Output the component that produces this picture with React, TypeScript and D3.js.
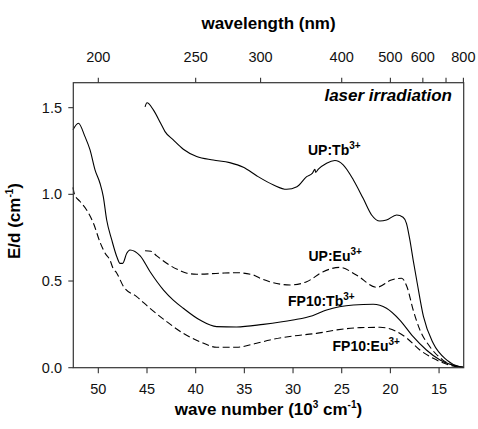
import React from "react";
import * as d3 from "d3";

// Absorption spectra (E/d, cm^-1) against wave number (10^3 cm^-1)
const upTbWave = [45.2, 45.0, 44.35, 43.6, 43.15, 42.3, 41.27, 39.9, 38.2, 36.5, 35.1, 33.7, 32.0, 30.66, 29.6, 28.6, 28.0, 27.75, 27.68, 27.4, 26.55, 25.7, 24.85, 23.8, 22.8, 21.93, 21.08, 20.4, 19.36, 18.7, 18.35, 18.0, 17.66, 17.3, 16.6, 15.6, 14.2, 12.9, 12.47];
const upTbValue = [1.505, 1.528, 1.487, 1.41, 1.362, 1.314, 1.26, 1.218, 1.198, 1.183, 1.156, 1.106, 1.054, 1.029, 1.044, 1.102, 1.122, 1.145, 1.127, 1.145, 1.18, 1.195, 1.17, 1.083, 0.977, 0.881, 0.846, 0.852, 0.881, 0.868, 0.833, 0.737, 0.621, 0.506, 0.294, 0.141, 0.044, 0.006, 0.002];

const fpTbWave = [52.6, 52.05, 51.37, 50.85, 50.34, 49.83, 49.49, 49.14, 48.62, 48.1, 47.77, 47.5, 47.08, 46.75, 45.7, 44.7, 43.3, 42.3, 41.27, 39.56, 37.85, 35.8, 33.06, 30.0, 28.0, 26.55, 23.8, 21.77, 20.4, 19.03, 17.66, 16.3, 14.9, 12.9, 12.47];
const fpTbValue = [1.372, 1.41, 1.333, 1.256, 1.141, 1.064, 0.987, 0.852, 0.737, 0.64, 0.602, 0.602, 0.66, 0.679, 0.645, 0.555, 0.448, 0.39, 0.343, 0.275, 0.237, 0.235, 0.25, 0.275, 0.3, 0.333, 0.362, 0.366, 0.343, 0.275, 0.179, 0.102, 0.044, 0.006, 0.002];

const upEuWave = [45.2, 44.6, 44.0, 42.64, 41.6, 40.9, 39.9, 37.5, 35.8, 34.1, 33.4, 32.4, 30.3, 28.6, 26.9, 25.2, 23.5, 21.4, 19.9, 18.85, 18.3, 17.66, 16.97, 15.94, 14.6, 12.9, 12.47];
const upEuValue = [0.675, 0.672, 0.645, 0.59, 0.56, 0.545, 0.539, 0.545, 0.548, 0.535, 0.516, 0.496, 0.477, 0.496, 0.554, 0.579, 0.535, 0.464, 0.506, 0.516, 0.467, 0.333, 0.218, 0.121, 0.044, 0.004, 0.001];

const fpEuWave = [52.6, 52.45, 51.9, 51.2, 50.5, 49.8, 49.3, 48.8, 48.5, 48.1, 47.4, 46.06, 44.7, 42.98, 41.27, 39.56, 37.85, 35.8, 33.74, 32.37, 30.0, 27.6, 25.5, 23.13, 21.07, 19.36, 18.3, 16.97, 15.6, 14.2, 12.9, 12.47];
const fpEuValue = [1.04, 1.0, 0.96, 0.91, 0.833, 0.72, 0.66, 0.62, 0.575, 0.545, 0.467, 0.41, 0.343, 0.266, 0.198, 0.15, 0.118, 0.118, 0.141, 0.16, 0.183, 0.198, 0.218, 0.231, 0.233, 0.208, 0.17, 0.102, 0.054, 0.02, 0.003, 0.001];

const waveTicks = [50, 45, 40, 35, 30, 25, 20, 15];
const yTicks = [0, 0.5, 1.0, 1.5];
const lambdaTicks = [200, 250, 300, 400, 500, 600, 700, 800];
const lambdaLabels = ["200", "250", "300", "400", "500", "600", "", "800"];

const FONT = "Arial, 'Liberation Sans', Helvetica, sans-serif";

export default function App() {
  const left = 73.3, right = 463.7, top = 82.7, bottom = 367.7;
  const x = d3.scaleLinear().domain([52.57, 12.47]).range([left, right]);
  const y = d3.scaleLinear().domain([0, 1.644]).range([bottom, top]);

  const line = d3
    .line<[number, number]>()
    .x((d) => x(d[0]))
    .y((d) => y(d[1]))
    .curve(d3.curveMonotoneX);

  const zip = (w: number[], v: number[]) =>
    w.map((wn, i) => [wn, v[i]] as [number, number]).sort((a, b) => b[0] - a[0]);

  const series = [
    { data: zip(upTbWave, upTbValue), dash: null },
    { data: zip(fpTbWave, fpTbValue), dash: null },
    { data: zip(upEuWave, upEuValue), dash: "7,3.5" },
    { data: zip(fpEuWave, fpEuValue), dash: "7,3.5" },
  ];

  const axisColor = "#333";

  return (
    <svg
      width={478}
      height={429}
      style={{ position: "absolute", left: 0, top: 0, background: "#fff" }}
      fontFamily={FONT}
    >
      <rect width={478} height={429} fill="#fff" />

      {/* top axis title */}
      <text x={(left + right) / 2} y={29} textAnchor="middle" fontSize={17} fontWeight="bold">
        wavelength (nm)
      </text>

      {/* curves */}
      {series.map((s, i) => (
        <path
          key={i}
          d={line(s.data) || ""}
          fill="none"
          stroke="#000"
          strokeWidth={1.1}
          strokeDasharray={s.dash || undefined}
        />
      ))}

      {/* frame */}
      <rect x={left} y={top} width={right - left} height={bottom - top} fill="none" stroke={axisColor} strokeWidth={1.2} />

      {/* bottom ticks */}
      {waveTicks.map((t) => (
        <g key={"b" + t}>
          <line x1={x(t)} x2={x(t)} y1={bottom} y2={bottom + 5.5} stroke={axisColor} strokeWidth={1.1} />
          <text x={x(t)} y={394} textAnchor="middle" fontSize={14.5} fill="#111">
            {t}
          </text>
        </g>
      ))}

      {/* top wavelength ticks */}
      {lambdaTicks.map((l, i) => {
        const px = x(1e4 / l);
        return (
          <g key={"t" + l}>
            <line x1={px} x2={px} y1={top} y2={top - 5} stroke={axisColor} strokeWidth={1.1} />
            {lambdaLabels[i] && (
              <text x={px} y={62} textAnchor="middle" fontSize={14.5} fill="#111">
                {lambdaLabels[i]}
              </text>
            )}
          </g>
        );
      })}

      {/* left ticks */}
      {yTicks.map((t) => (
        <g key={"y" + t}>
          <line x1={left - 5} x2={left} y1={y(t)} y2={y(t)} stroke={axisColor} strokeWidth={1.1} />
          <text x={62} y={y(t) + 5} textAnchor="end" fontSize={14.5} fill="#111">
            {t.toFixed(1)}
          </text>
        </g>
      ))}

      {/* axis titles */}
      <text x={(left + right) / 2} y={415} textAnchor="middle" fontSize={17} fontWeight="bold">
        wave number (10
        <tspan fontSize={10} dy={-7}>3</tspan>
        <tspan dy={7}> cm</tspan>
        <tspan fontSize={10} dy={-7}>-1</tspan>
        <tspan dy={7}>)</tspan>
      </text>
      <text
        transform={`translate(20, 221) rotate(-90)`}
        textAnchor="middle"
        fontSize={17}
        fontWeight="bold"
      >
        E/d (cm
        <tspan fontSize={10} dy={-7}>-1</tspan>
        <tspan dy={7}>)</tspan>
      </text>

      {/* annotations */}
      <text x={452} y={101} textAnchor="end" fontSize={17} fontWeight="bold" fontStyle="italic">
        laser irradiation
      </text>
      <text x={308} y={155} fontSize={14} fontWeight="bold">
        UP:Tb<tspan fontSize={10} dy={-6}>3+</tspan>
      </text>
      <text x={308.5} y={261} fontSize={14} fontWeight="bold">
        UP:Eu<tspan fontSize={10} dy={-6}>3+</tspan>
      </text>
      <text x={288} y={305.5} fontSize={14} fontWeight="bold">
        FP10:Tb<tspan fontSize={10} dy={-6}>3+</tspan>
      </text>
      <text x={332.5} y={351} fontSize={14} fontWeight="bold">
        FP10:Eu<tspan fontSize={10} dy={-6}>3+</tspan>
      </text>
    </svg>
  );
}
